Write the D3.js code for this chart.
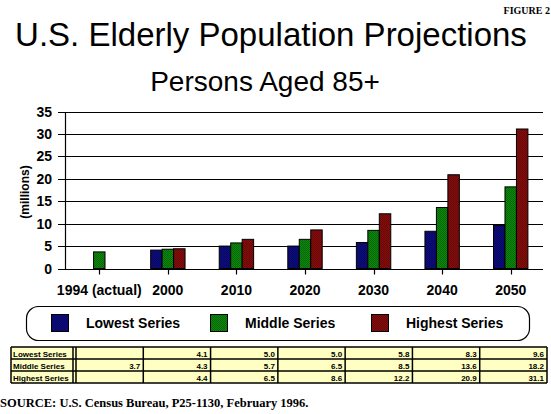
<!DOCTYPE html>
<html lang="en">
<head>
  <meta charset="UTF-8">
  <title>U.S. Elderly Population Projections</title>
  <script src="https://d3js.org/d3.v7.min.js"></script>
  <style>
    body { margin: 0; background: white; font-family: "Liberation Sans", Arial, sans-serif; }
    svg text { fill: black; }
  </style>
</head>
<body>
  <svg id="chart" width="551" height="414"></svg>

  <script>
    const categories = ["1994 (actual)", "2000", "2010", "2020", "2030", "2040", "2050"];
    const seriesNames = ["Lowest Series", "Middle Series", "Highest Series"];
    const lowest = [null, 4.1, 5.0, 5.0, 5.8, 8.3, 9.6];
    const middle = [3.7, 4.3, 5.7, 6.5, 8.5, 13.6, 18.2];
    const highest = [null, 4.4, 6.5, 8.6, 12.2, 20.9, 31.1];
    const yTicks = [0, 5, 10, 15, 20, 25, 30, 35];
    const seriesColors = ["#0c0c80", "#0c880c", "#880c0c"];

    const seriesValues = [lowest, middle, highest];

    const svg = d3.select("#chart");

    // dithered fills like the old print
    const defs = svg.append("defs");
    seriesColors.forEach((c, i) => {
      const p = defs.append("pattern")
        .attr("id", "dither" + i)
        .attr("width", 2).attr("height", 2)
        .attr("patternUnits", "userSpaceOnUse");
      p.append("rect").attr("width", 2).attr("height", 2).attr("fill", c);
      p.append("rect").attr("width", 1).attr("height", 1).attr("fill", d3.color(c).darker(0.8));
      p.append("rect").attr("x", 1).attr("y", 1).attr("width", 1).attr("height", 1).attr("fill", d3.color(c).darker(0.8));
    });

    // titles
    svg.append("text")
      .attr("x", 550).attr("y", 14)
      .attr("text-anchor", "end")
      .style("font-family", "'Liberation Serif', 'Times New Roman', serif")
      .style("font-weight", "bold")
      .style("font-size", "10px")
      .text("FIGURE 2");

    svg.append("text")
      .attr("x", 271).attr("y", 46)
      .attr("text-anchor", "middle")
      .style("font-size", "33px")
      .text("U.S. Elderly Population Projections");

    svg.append("text")
      .attr("x", 265).attr("y", 91)
      .attr("text-anchor", "middle")
      .style("font-size", "28px")
      .text("Persons Aged 85+");

    // scales
    const x0 = d3.scaleBand().domain(categories).range([65, 545]);
    const x1 = d3.scaleBand().domain(seriesNames).range([-17.2, 17.2]);
    const y = d3.scaleLinear().domain([0, 35]).range([268.5, 111.5]);

    // grid lines
    svg.append("g")
      .selectAll("line")
      .data(yTicks)
      .join("line")
      .attr("x1", 58).attr("x2", 543)
      .attr("y1", d => Math.round(y(d)) + 0.5)
      .attr("y2", d => Math.round(y(d)) + 0.5)
      .attr("stroke", "black")
      .attr("stroke-width", 1.2);

    // y axis line
    svg.append("line")
      .attr("x1", 65.5).attr("x2", 65.5)
      .attr("y1", Math.round(y(35)) + 0.5).attr("y2", Math.round(y(0)) + 0.5)
      .attr("stroke", "black").attr("stroke-width", 1.2);

    svg.append("g")
      .selectAll("text")
      .data(yTicks)
      .join("text")
      .attr("x", 52).attr("y", d => y(d))
      .attr("dy", "0.36em")
      .attr("text-anchor", "end")
      .style("font-size", "14px")
      .style("font-weight", "bold")
      .text(d => d);

    svg.append("text")
      .attr("transform", "translate(29,192) rotate(-90)")
      .attr("text-anchor", "middle")
      .style("font-size", "12px")
      .style("font-weight", "bold")
      .text("(millions)");

    // x ticks and labels
    const xg = svg.append("g");
    xg.selectAll("line")
      .data(categories)
      .join("line")
      .attr("x1", d => Math.round(x0(d) + x0.bandwidth() / 2) + 0.5)
      .attr("x2", d => Math.round(x0(d) + x0.bandwidth() / 2) + 0.5)
      .attr("y1", y(0)).attr("y2", y(0) + 6)
      .attr("stroke", "black").attr("stroke-width", 1.2);

    xg.selectAll("text")
      .data(categories)
      .join("text")
      .attr("x", d => x0(d) + x0.bandwidth() / 2)
      .attr("y", 295)
      .attr("text-anchor", "middle")
      .style("font-size", "14px")
      .style("font-weight", "bold")
      .text(d => d);

    // bars
    const bars = [];
    categories.forEach((c, i) => {
      seriesNames.forEach((s, j) => {
        const v = seriesValues[j][i];
        if (v != null) bars.push({ cat: c, series: s, idx: j, value: v });
      });
    });

    svg.append("g")
      .selectAll("rect")
      .data(bars)
      .join("rect")
      .attr("x", d => x0(d.cat) + x0.bandwidth() / 2 + x1(d.series))
      .attr("width", x1.bandwidth())
      .attr("y", d => y(d.value))
      .attr("height", d => y(0) - y(d.value))
      .attr("fill", d => "url(#dither" + d.idx + ")")
      .attr("stroke", "black")
      .attr("stroke-width", 1);

    // legend
    svg.append("rect")
      .attr("x", 26.5).attr("y", 306.5)
      .attr("width", 503).attr("height", 34)
      .attr("rx", 12).attr("ry", 12)
      .attr("fill", "white")
      .attr("stroke", "black")
      .attr("stroke-width", 1.2);

    const legendX = [51, 210, 371];
    const legend = svg.append("g")
      .selectAll("g")
      .data(seriesNames)
      .join("g")
      .attr("transform", (d, i) => "translate(" + legendX[i] + ",314)");

    legend.append("rect")
      .attr("x", 0.5).attr("y", 0.5)
      .attr("width", 17).attr("height", 17)
      .attr("fill", (d, i) => "url(#dither" + i + ")")
      .attr("stroke", "black");

    legend.append("text")
      .attr("x", 35).attr("y", 14)
      .style("font-size", "14px")
      .style("font-weight", "bold")
      .text(d => d);

    // data table
    const tableTop = 347, rowH = 12;
    const colX = d3.scaleBand().domain(categories).range([76, 547]);
    const table = svg.append("g");

    table.append("rect")
      .attr("x", 11).attr("y", tableTop)
      .attr("width", 536).attr("height", rowH * 3)
      .attr("fill", "#ffffc4");

    seriesNames.forEach((s, j) => {
      const ty = tableTop + rowH * j;
      table.append("text")
        .attr("x", 13).attr("y", ty + 9.5)
        .style("font-size", "8px")
        .style("font-weight", "bold")
        .text(s);
      seriesValues[j].forEach((v, i) => {
        if (v == null) return;
        table.append("text")
          .attr("x", colX(categories[i]) + colX.bandwidth() - 3)
          .attr("y", ty + 9.5)
          .attr("text-anchor", "end")
          .style("font-size", "8px")
          .style("font-weight", "bold")
          .text(v.toFixed(1));
      });
    });

    const hLines = [0, 1, 2, 3];
    table.selectAll(".hl")
      .data(hLines)
      .join("line")
      .attr("x1", 11).attr("x2", 547)
      .attr("y1", d => tableTop + d * rowH)
      .attr("y2", d => tableTop + d * rowH)
      .attr("stroke", "black").attr("stroke-width", 1.5);

    const vLines = [11, 73].concat(categories.map(c => colX(c))).concat([547]);
    table.selectAll(".vl")
      .data(vLines)
      .join("line")
      .attr("x1", d => d).attr("x2", d => d)
      .attr("y1", tableTop).attr("y2", tableTop + rowH * 3)
      .attr("stroke", "black").attr("stroke-width", 1.5);

    // source
    svg.append("text")
      .attr("x", 0).attr("y", 407)
      .style("font-family", "'Liberation Serif', 'Times New Roman', serif")
      .style("font-weight", "bold")
      .style("font-size", "12.5px")
      .text("SOURCE: U.S. Census Bureau, P25-1130, February 1996.");
  </script>
</body>
</html>
